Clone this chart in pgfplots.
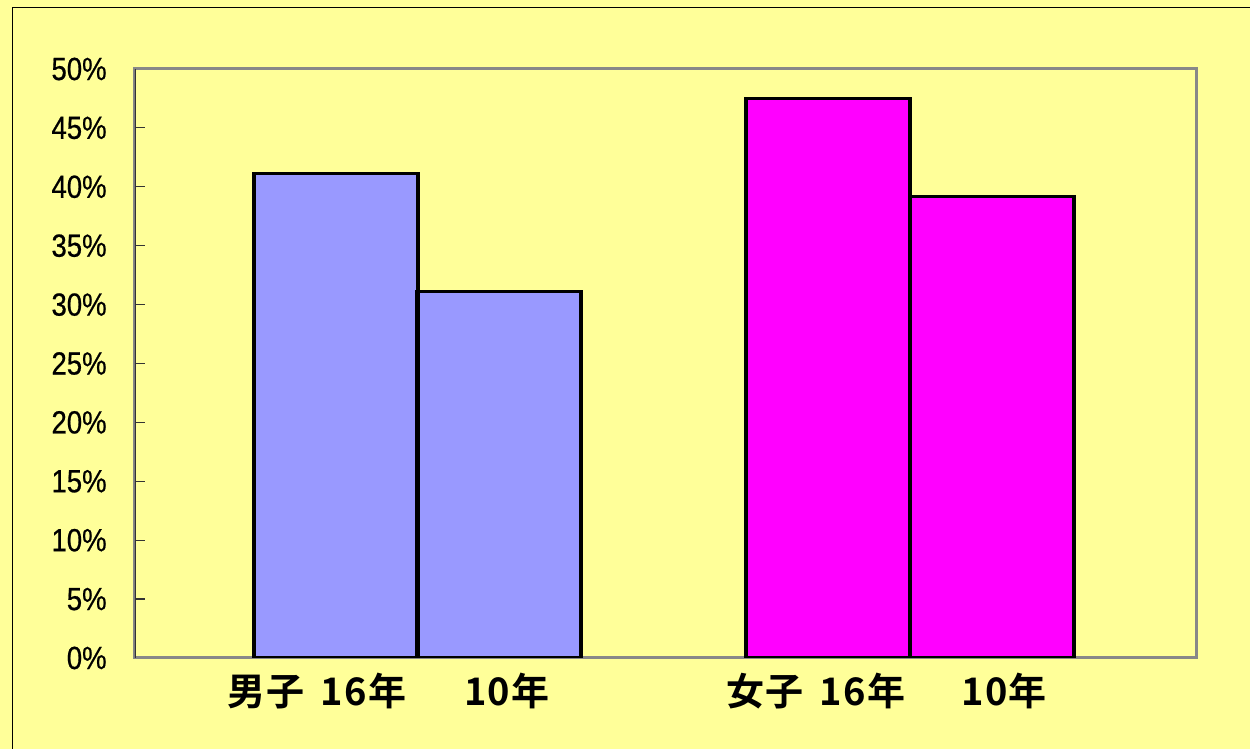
\documentclass[border=0pt]{standalone}
\usepackage{pgfplots}
\pgfplotsset{compat=1.18}
\usepackage{fontspec}
\setmainfont{Liberation Sans}
\newfontfamily\tickfont{Liberation Sans}[FakeStretch=0.86, FakeBold=0.6]
\newfontfamily\cjkb{Noto Sans CJK JP Bold}[LetterSpace=4]

\definecolor{bgyellow}{HTML}{FFFF99}
\definecolor{boys}{HTML}{9999FF}
\definecolor{girls}{HTML}{FF00FF}
\definecolor{framegray}{HTML}{888888}
\definecolor{spine}{HTML}{333333}

\begin{document}
\begin{tikzpicture}
  % page background and frame
  \fill[bgyellow] (0,0) rectangle (625pt,374.5pt);
  \draw[black, line width=0.6pt] (6.35pt,0) -- (6.35pt,370.75pt) -- (625pt,370.75pt);

  \begin{axis}[
    at={(67.5pt,45.5pt)}, anchor=south west,
    scale only axis,
    width=530.5pt, height=294.5pt,
    xmin=0, xmax=1061,
    ymin=0, ymax=50,
    ybar, bar shift=0pt, bar width=164,
    axis background/.style={fill=bgyellow},
    axis line style={draw=framegray, line width=1.5pt},
    ytick={0,5,...,50},
    yticklabels={0\%,5\%,10\%,15\%,20\%,25\%,30\%,35\%,40\%,45\%,50\%},
    ytick pos=left,
    tick align=inside,
    major tick length=5pt,
    ytick style={draw=spine, line width=0.6pt},
    yticklabel style={font=\tickfont\fontsize{16}{16}\selectfont, anchor=east, inner sep=0pt, xshift=-14pt},
    xtick={182,372,681,869},
    xticklabels={男子\hspace{8pt}16年,10年,女子\hspace{8pt}16年,10年},
    xtick style={draw=none},
    xticklabel style={font=\cjkb\fontsize{19}{19}\selectfont, anchor=base, inner sep=0pt, yshift=-24pt},
  ]
    % boys: 16年, 10年
    \addplot[fill=boys, draw=black, line width=1.6pt] coordinates {(201,41.1) (364,31.1)};
    % girls: 16年, 10年
    \addplot[fill=girls, draw=black, line width=1.6pt] coordinates {(693,47.5) (857,39.2)};
    % darker left spine
    \draw[spine, line width=1pt] (rel axis cs:0,0) -- (rel axis cs:0,1);
  \end{axis}
  \pgfresetboundingbox
  \useasboundingbox (0,0) rectangle (625pt,374.5pt);
\end{tikzpicture}
\end{document}
